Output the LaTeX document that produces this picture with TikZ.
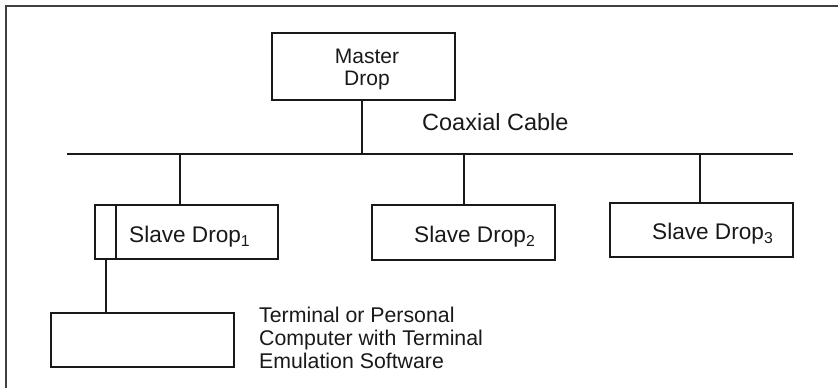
\documentclass[tikz,border=0pt]{standalone}
\usepackage{fontspec}
\setmainfont{Liberation Sans}
\begin{document}
\begin{tikzpicture}[x=1pt,y=-1pt,
  box/.style={draw=black!90, line width=1.5pt},
  wire/.style={draw=black!90, line width=1.5pt},
  lbl/.style={inner sep=0pt, text=black!90},
  slavetext/.style={lbl, anchor=base west, font=\fontsize{22.6}{23}\selectfont}]
\useasboundingbox (0,0) rectangle (838,388);
% frame (top and left edges)
\draw[draw=black!75, line width=2pt] (5.5,388) -- (5.5,5.5) -- (838,5.5);
% master
\draw[box] (272,33) rectangle (455,100);
\node[lbl, anchor=north, align=center, font=\fontsize{21}{22.5}\selectfont] (master) at (367,48.5) {Master\\Drop};
\coordinate (mb) at (362,100);
\coordinate (cl) at (67,154);
\coordinate (cr) at (793,154);
\coordinate (cm) at (362,154);
\draw[wire] (mb) -- (cm);
\draw[wire] (cl) -- (cr);
\node[lbl, anchor=base west, font=\fontsize{23.5}{23}\selectfont] (coax) at (422,130) {Coaxial Cable};
% slave drops
\draw[box] (95,205) rectangle (278,259);
\draw[wire] (116,205) -- (116,259);
\node[slavetext] (s1) at (129,242.3) {Slave Drop\textsubscript{1}};
\draw[box] (372,205) rectangle (555,260);
\node[slavetext] (s2) at (414,242.3) {Slave Drop\textsubscript{2}};
\draw[box] (610,203) rectangle (793,257);
\node[slavetext] (s3) at (652,239.7) {Slave Drop\textsubscript{3}};
\coordinate (t1) at (180,154); \coordinate (b1) at (180,205);
\coordinate (t2) at (464,154); \coordinate (b2) at (464,205);
\coordinate (t3) at (700,154); \coordinate (b3) at (700,203);
\draw[wire] (t1) -- (b1);
\draw[wire] (t2) -- (b2);
\draw[wire] (t3) -- (b3);
% terminal
\draw[box] (51,313) rectangle (234,367);
\coordinate (ta) at (106,259); \coordinate (tb) at (106,313);
\draw[wire] (ta) -- (tb);
\node[lbl, anchor=north west, align=left, font=\fontsize{21.3}{23}\selectfont] (term) at (259,307) {Terminal or Personal\\Computer with Terminal\\Emulation Software};
\end{tikzpicture}
\end{document}
